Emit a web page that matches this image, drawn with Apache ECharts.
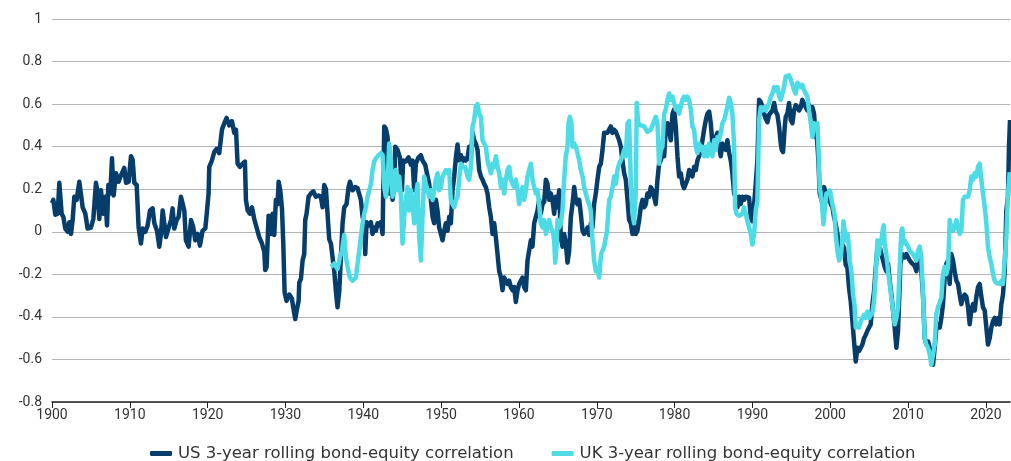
<!DOCTYPE html>
<html>
<head>
<meta charset="utf-8">
<script src="https://cdn.jsdelivr.net/npm/echarts@6/dist/echarts.min.js"></script>
<style>
html,body{margin:0;padding:0;background:#fff;}
#chart{width:1011px;height:461px;}
</style>
</head>
<body>
<div id="chart"></div>
<script>
const seriesNames = ["US 3-year rolling bond-equity correlation", "UK 3-year rolling bond-equity correlation"];
const xTickLabels = [1900,1910,1920,1930,1940,1950,1960,1970,1980,1990,2000,2010,2020];

const usYears = [
1900.0,1900.17,1900.43,1900.73,1900.94,1901.07,1901.24,1901.46,1901.71,1902.01,1902.23,1902.44,1902.65,1902.87,1903.17,1903.51,1903.73,1903.94,1904.28,1904.58,
1905.01,1905.31,1905.65,1905.87,1906.08,1906.29,1906.59,1906.85,1907.07,1907.24,1907.49,1907.71,1907.92,1908.22,1908.56,1908.86,1909.29,1909.51,1909.85,
1910.15,1910.36,1910.58,1910.88,1911.13,1911.43,1911.65,1911.99,1912.29,1912.59,1912.93,1913.15,1913.49,1913.79,1914.0,1914.22,1914.43,1914.64,1914.99,
1915.29,1915.5,1915.71,1916.01,1916.27,1916.57,1916.79,1917.0,1917.21,1917.56,1917.86,1918.16,1918.41,1918.71,1919.01,1919.35,1919.7,1919.91,
1920.12,1920.21,1920.55,1920.85,1921.15,1921.49,1921.84,1922.14,1922.44,1922.78,1923.12,1923.42,1923.64,1923.85,1924.15,1924.49,1924.79,1924.92,
1925.14,1925.43,1925.69,1925.99,1926.29,1926.63,1926.98,1927.28,1927.4,1927.58,1927.83,1928.13,1928.35,1928.56,1928.77,1928.99,1929.12,1929.33,1929.55,1929.72,1929.89,
1930.14,1930.49,1930.83,1931.0,1931.26,1931.47,1931.69,1931.77,1931.99,1932.2,1932.41,1932.54,1932.71,1932.97,1933.27,1933.57,1933.91,1934.26,1934.55,1934.77,1934.98,
1935.2,1935.41,1935.62,1935.84,1936.05,1936.27,1936.48,1936.69,1936.91,1937.12,1937.34,1937.55,1937.85,1938.11,1938.28,1938.62,1938.96,1939.26,1939.48,1939.69,1939.91,
1940.12,1940.25,1940.42,1940.76,1940.98,1941.19,1941.4,1941.62,1941.83,1942.05,1942.26,1942.48,1942.69,1942.9,1943.12,1943.33,1943.55,1943.76,1943.97,1944.1,1944.4,1944.7,1944.96,
1945.13,1945.47,1945.82,1946.12,1946.33,1946.54,1946.76,1947.1,1947.4,1947.61,1947.96,1948.26,1948.47,1948.68,1948.9,1949.11,1949.33,1949.54,1949.75,1949.97,
1950.18,1950.4,1950.61,1950.83,1951.04,1951.25,1951.47,1951.68,1951.9,1952.11,1952.32,1952.54,1952.75,1952.97,1953.18,1953.39,1953.61,1953.82,1954.04,1954.25,1954.46,1954.68,1954.89,
1955.11,1955.32,1955.53,1955.75,1955.96,1956.18,1956.39,1956.61,1956.82,1957.03,1957.25,1957.46,1957.68,1957.89,1958.1,1958.32,1958.53,1958.75,1958.96,1959.17,1959.39,1959.6,1959.82,
1960.03,1960.24,1960.46,1960.67,1960.89,1961.1,1961.31,1961.53,1961.74,1961.96,1962.17,1962.39,1962.6,1962.81,1963.03,1963.24,1963.46,1963.67,1963.88,1964.1,1964.31,1964.53,1964.74,1964.95,
1965.17,1965.38,1965.6,1965.81,1966.02,1966.24,1966.45,1966.67,1966.88,1967.1,1967.31,1967.52,1967.74,1967.95,1968.17,1968.38,1968.59,1968.81,1969.02,1969.24,1969.45,1969.66,1969.88,
1970.09,1970.31,1970.52,1970.74,1970.95,1971.16,1971.38,1971.59,1971.8,1972.02,1972.23,1972.45,1972.66,1972.88,1973.09,1973.3,1973.52,1973.73,1973.95,1974.16,1974.37,1974.59,1974.8,
1975.02,1975.23,1975.44,1975.66,1975.87,1976.09,1976.3,1976.51,1976.73,1976.94,1977.16,1977.37,1977.58,1977.8,1978.01,1978.23,1978.44,1978.66,1978.87,1979.08,1979.3,1979.51,1979.73,1979.94,
1980.15,1980.37,1980.58,1980.8,1981.01,1981.22,1981.44,1981.65,1981.87,1982.08,1982.29,1982.51,1982.72,1982.94,1983.15,1983.37,1983.58,1983.79,1984.01,1984.22,1984.44,1984.65,1984.86,
1985.08,1985.29,1985.51,1985.72,1985.93,1986.15,1986.36,1986.58,1986.79,1987.01,1987.22,1987.43,1987.65,1987.86,1988.08,1988.29,1988.5,1988.72,1988.93,1989.15,1989.36,1989.57,1989.79,
1990.0,1990.22,1990.43,1990.64,1990.86,1991.07,1991.29,1991.5,1991.72,1991.93,1992.14,1992.36,1992.57,1992.79,1993.0,1993.21,1993.43,1993.64,1993.77,1993.94,1994.16,1994.28,1994.5,1994.71,1994.93,
1995.14,1995.35,1995.57,1995.78,1996.0,1996.21,1996.42,1996.64,1996.85,1997.07,1997.28,1997.5,1997.71,1997.92,1998.14,1998.27,1998.48,1998.65,1998.91,1999.21,1999.42,1999.64,1999.85,
2000.07,2000.28,2000.49,2000.71,2000.92,2001.14,2001.35,2001.56,2001.78,2001.99,2002.21,2002.42,2002.63,2002.85,2003.06,2003.28,2003.49,2003.71,2003.92,2004.13,2004.35,2004.56,2004.77,2004.99,
2005.2,2005.42,2005.63,2005.85,2006.06,2006.36,2006.57,2006.79,2007.0,2007.21,2007.43,2007.64,2007.86,2008.07,2008.28,2008.5,2008.71,2008.93,2009.01,2009.27,2009.57,2009.78,
2010.0,2010.21,2010.43,2010.64,2010.85,2011.07,2011.28,2011.5,2011.71,2011.92,2012.14,2012.35,2012.57,2012.78,2012.99,2013.21,2013.42,2013.64,2013.85,2014.07,2014.28,2014.49,2014.71,2014.92,
2015.14,2015.35,2015.56,2015.78,2015.99,2016.21,2016.42,2016.63,2016.85,2017.06,2017.28,2017.49,2017.71,2017.92,2018.13,2018.35,2018.56,2018.78,2018.99,2019.2,2019.42,2019.63,2019.85,
2020.06,2020.27,2020.49,2020.7,2020.92,2021.13,2021.34,2021.56,2021.77,2021.99,2022.2,2022.42,2022.63,2022.84,2022.97,2023.1
];
const usValues = [
0.135,0.15,0.08,0.085,0.23,0.235,0.085,0.07,0.015,0,0.045,-0.01,0.055,0.165,0.15,0.235,0.23,0.115,0.085,0.015,
0.02,0.06,0.23,0.18,0.06,0.195,0.085,0.165,0.03,0.22,0.18,0.345,0.17,0.275,0.235,0.265,0.3,0.23,0.235,
0.355,0.34,0.23,0.22,0.02,-0.055,0.015,0,0.03,0.1,0.11,0.04,0.005,-0.07,-0.01,0.1,0.04,-0.025,0.02,
0.055,0.11,0.015,0.055,0.07,0.165,0.17,0.1,-0.04,-0.07,0.055,0.02,-0.04,-0.01,-0.065,0.005,0.015,0.095,
0.18,0.305,0.335,0.375,0.39,0.37,0.48,0.51,0.535,0.5,0.52,0.465,0.48,0.32,0.305,0.32,0.33,0.15,
0.1,0.085,0.115,0.06,0.02,-0.025,-0.055,-0.095,-0.18,-0.165,0.075,-0.01,0.085,-0.015,0.15,0.13,0.235,0.195,0.11,-0.055,-0.285,
-0.325,-0.295,-0.315,-0.355,-0.41,-0.365,-0.325,-0.24,-0.22,-0.135,-0.105,0.055,0.085,0.165,0.18,0.19,0.165,0.17,0.165,0.115,0.22,
0.2,0.195,-0.035,-0.055,-0.12,-0.185,-0.28,-0.355,-0.28,-0.12,0.04,0.115,0.13,0.21,0.235,0.195,0.21,0.205,0.21,0.15,0.07,
0.04,-0.105,0.045,0.03,0.045,-0.01,0.02,0.005,0.04,0.03,0.045,-0.01,0.495,0.485,0.445,0.18,0.26,0.15,0.22,0.4,0.385,0.35,0.195,
0.335,0.33,0.35,0.315,0.335,0.195,0.32,0.35,0.36,0.335,0.315,0.26,0.225,0.15,0.07,0.04,0.15,0.1,0.02,-0.01,
-0.04,0.005,0.04,0.005,0.07,0.04,0.195,0.26,0.35,0.41,0.335,0.36,0.33,0.345,0.335,0.345,0.4,0.335,0.465,0.43,0.415,0.385,0.29,
0.26,0.245,0.225,0.21,0.18,0.115,0.07,-0.01,0.04,-0.025,-0.105,-0.185,-0.215,-0.275,-0.215,-0.23,-0.245,-0.23,-0.26,-0.275,-0.26,-0.33,-0.275,
-0.245,-0.23,-0.215,-0.26,-0.275,-0.135,-0.135,-0.04,-0.07,0.04,0.07,0.1,0.15,0.085,0.13,0.14,0.245,0.225,0.15,0.18,0.15,0.085,0.165,0.115,
0.195,-0.025,-0.07,-0.01,-0.055,-0.145,-0.09,0.07,0.13,0.21,0.15,0.13,0.15,0.085,0.005,-0.01,0,0.02,-0.015,0.04,0.02,0.13,0.18,
0.245,0.305,0.32,0.385,0.465,0.47,0.465,0.48,0.495,0.465,0.48,0.47,0.465,0.43,0.4,0.335,0.275,0.245,0.15,0.055,0.04,-0.01,0.055,
-0.01,0.005,0.055,0.115,0.15,0.115,0.13,0.18,0.165,0.21,0.195,0.165,0.13,0.245,0.32,0.335,0.37,0.355,0.48,0.51,0.48,0.43,0.555,0.575,
0.495,0.355,0.26,0.275,0.225,0.205,0.21,0.245,0.29,0.275,0.26,0.305,0.29,0.335,0.355,0.385,0.43,0.48,0.525,0.555,0.565,0.51,0.415,
0.4,0.445,0.465,0.4,0.355,0.415,0.4,0.385,0.43,0.37,0.335,0.275,0.18,0.165,0.115,0.165,0.13,0.165,0.15,0.165,0.17,0.16,0.07,
0.05,0.13,0.225,0.335,0.62,0.61,0.585,0.555,0.53,0.515,0.55,0.555,0.57,0.605,0.565,0.55,0.495,0.415,0.385,0.375,0.495,0.54,0.555,0.605,0.525,
0.51,0.57,0.595,0.585,0.57,0.585,0.62,0.625,0.585,0.57,0.595,0.555,0.585,0.555,0.445,0.455,0.335,0.18,0.145,0.21,0.21,0.145,0.18,
0.13,0.115,0.07,0.035,-0.01,-0.075,-0.09,-0.06,-0.075,-0.155,-0.17,-0.265,-0.325,-0.42,-0.515,-0.61,-0.545,-0.56,-0.56,-0.53,-0.5,-0.485,-0.465,-0.465,
-0.435,-0.34,-0.28,-0.17,-0.075,-0.07,-0.105,-0.135,-0.165,-0.185,-0.15,-0.23,-0.295,-0.37,-0.45,-0.545,-0.465,-0.245,-0.15,-0.105,-0.12,-0.105,
-0.12,-0.135,-0.145,-0.15,-0.16,-0.185,-0.12,-0.105,-0.185,-0.295,-0.5,-0.53,-0.515,-0.545,-0.59,-0.625,-0.545,-0.45,-0.435,-0.45,-0.405,-0.34,-0.215,-0.15,
-0.135,-0.245,-0.105,-0.135,-0.185,-0.23,-0.245,-0.295,-0.34,-0.305,-0.295,-0.305,-0.355,-0.435,-0.37,-0.34,-0.37,-0.305,-0.26,-0.245,-0.305,-0.355,-0.37,
-0.45,-0.53,-0.5,-0.45,-0.42,-0.405,-0.435,-0.405,-0.435,-0.34,-0.295,-0.185,0.1,0.165,0.4,0.525
];

const ukYears = [
1935.84,1936.27,1936.69,1936.99,1937.25,1937.55,1937.77,1937.98,1938.28,1938.62,1939.05,1939.26,1939.48,1939.69,1939.91,
1940.12,1940.33,1940.55,1940.76,1940.98,1941.19,1941.4,1941.62,1941.96,1942.26,1942.48,1942.69,1942.9,1943.12,1943.33,1943.55,1943.76,1943.97,1944.18,1944.4,1944.62,1944.83,
1945.04,1945.26,1945.47,1945.69,1945.9,1946.12,1946.33,1946.54,1946.76,1946.97,1947.18,1947.4,1947.61,1947.83,1948.04,1948.26,1948.47,1948.68,1948.9,1949.11,1949.33,1949.54,1949.75,1949.97,
1950.18,1950.4,1950.61,1950.83,1951.04,1951.25,1951.47,1951.68,1951.9,1952.11,1952.32,1952.54,1952.75,1953.09,1953.39,1953.61,1953.82,1954.04,1954.25,1954.46,1954.68,1954.89,
1955.11,1955.32,1955.53,1955.75,1955.96,1956.18,1956.39,1956.61,1956.82,1957.03,1957.25,1957.46,1957.68,1957.89,1958.1,1958.32,1958.53,1958.75,1958.96,1959.17,1959.39,1959.6,1959.82,
1960.03,1960.24,1960.46,1960.67,1960.89,1961.1,1961.31,1961.53,1961.74,1961.96,1962.17,1962.39,1962.6,1962.81,1963.03,1963.24,1963.46,1963.67,1963.88,1964.1,1964.31,1964.53,1964.66,1964.83,1964.95,
1965.17,1965.38,1965.6,1965.81,1966.02,1966.24,1966.37,1966.54,1966.75,1966.88,1967.1,1967.31,1967.52,1967.74,1967.95,1968.17,1968.38,1968.59,1968.81,1969.02,1969.24,1969.45,1969.66,1969.88,
1970.09,1970.31,1970.55,1970.95,1971.3,1971.6,1971.8,1972.02,1972.23,1972.45,1972.66,1972.88,1973.09,1973.3,1973.52,1973.73,1973.95,1974.16,1974.25,1974.37,1974.59,1974.8,
1975.02,1975.14,1975.32,1975.66,1976.09,1976.51,1976.94,1977.37,1977.58,1977.8,1978.01,1978.23,1978.44,1978.66,1978.87,1979.08,1979.3,1979.51,1979.73,1979.94,
1980.15,1980.37,1980.58,1980.8,1981.01,1981.22,1981.44,1981.65,1981.87,1982.08,1982.29,1982.51,1982.72,1982.94,1983.15,1983.37,1983.58,1983.79,1984.01,1984.22,1984.44,1984.65,1984.86,
1985.08,1985.29,1985.51,1985.72,1985.93,1986.15,1986.36,1986.58,1986.79,1987.01,1987.22,1987.43,1987.65,1987.78,1987.95,1988.29,1988.72,1988.93,1989.15,1989.36,1989.57,1989.79,
1990.0,1990.22,1990.43,1990.64,1990.86,1991.07,1991.29,1991.5,1991.72,1991.93,1992.14,1992.36,1992.57,1992.79,1993.0,1993.21,1993.43,1993.64,1993.86,1994.07,1994.28,1994.5,1994.71,1994.93,
1995.14,1995.35,1995.57,1995.78,1996.0,1996.21,1996.42,1996.64,1996.85,1997.07,1997.28,1997.5,1997.71,1997.92,1998.14,1998.35,1998.48,1998.65,1998.91,1999.12,1999.34,1999.51,1999.77,1999.98,
2000.19,2000.37,2000.54,2000.71,2000.92,2001.14,2001.35,2001.56,2001.69,2001.86,2001.99,2002.21,2002.33,2002.51,2002.76,2002.93,2003.11,2003.28,2003.49,2003.71,2003.92,2004.13,2004.35,2004.56,2004.77,2004.99,
2005.2,2005.42,2005.63,2005.85,2006.06,2006.27,2006.36,2006.57,2006.79,2006.87,2007.0,2007.21,2007.43,2007.64,2007.86,2008.07,2008.28,2008.5,2008.71,2008.93,2009.14,2009.27,2009.44,2009.57,2009.78,
2010.0,2010.21,2010.43,2010.64,2010.85,2011.07,2011.28,2011.5,2011.71,2011.92,2012.14,2012.35,2012.57,2012.78,2012.99,2013.21,2013.42,2013.64,2013.85,2014.07,2014.28,2014.49,2014.71,2014.92,
2015.14,2015.35,2015.56,2015.78,2015.99,2016.21,2016.42,2016.63,2016.85,2017.06,2017.28,2017.49,2017.71,2017.92,2018.13,2018.35,2018.56,2018.78,2018.99,2019.2,2019.42,2019.63,2019.85,
2020.06,2020.27,2020.49,2020.7,2020.92,2021.13,2021.34,2021.56,2021.77,2021.99,2022.2,2022.42,2022.63,2022.84,2023.06
];
const ukValues = [
-0.165,-0.15,-0.175,-0.12,-0.09,-0.015,-0.12,-0.165,-0.215,-0.23,-0.215,-0.15,-0.09,-0.025,0.04,
0.085,0.115,0.165,0.195,0.225,0.29,0.33,0.345,0.36,0.37,0.36,0.21,0.165,0.225,0.415,0.32,0.165,0.21,0.29,0.195,0.26,0.165,
-0.055,0.07,0.15,0.21,0.1,0.195,0.13,0.04,0.165,0.225,-0.025,-0.135,0.07,0.26,0.225,0.225,0.165,0.195,0.15,0.195,0.245,0.275,0.195,0.21,
0.26,0.275,0.29,0.275,0.29,0.15,0.13,0.115,0.15,0.165,0.245,0.32,0.305,0.305,0.26,0.245,0.305,0.495,0.525,0.59,0.6,0.555,
0.54,0.43,0.415,0.4,0.335,0.305,0.275,0.32,0.305,0.355,0.305,0.275,0.21,0.245,0.18,0.245,0.29,0.305,0.245,0.225,0.21,0.245,0.195,
0.13,0.18,0.21,0.15,0.195,0.26,0.29,0.32,0.245,0.21,0.18,0.195,0.13,0.04,0.02,0.055,-0.01,0.02,0.055,0.02,0.005,-0.04,-0.145,-0.07,0.055,
0.02,0.04,0.1,0.245,0.355,0.4,0.51,0.54,0.51,0.4,0.415,0.4,0.37,0.335,0.29,0.26,0.21,0.18,0.15,0.13,0.1,-0.04,-0.135,-0.185,
-0.17,-0.215,-0.105,-0.07,0.0,0.15,0.165,0.21,0.26,0.225,0.29,0.32,0.335,0.355,0.385,0.355,0.51,0.52,0.4,0.245,0.085,0.04,
0.195,0.605,0.51,0.5,0.495,0.47,0.48,0.52,0.54,0.51,0.32,0.385,0.4,0.555,0.575,0.62,0.65,0.62,0.635,0.605,
0.575,0.59,0.555,0.59,0.62,0.635,0.62,0.635,0.62,0.575,0.495,0.48,0.4,0.37,0.415,0.385,0.4,0.355,0.4,0.355,0.415,0.385,0.355,
0.43,0.385,0.445,0.43,0.465,0.51,0.525,0.555,0.59,0.63,0.605,0.555,0.4,0.115,0.085,0.075,0.085,0.115,0.085,0.05,0.02,-0.01,
-0.06,-0.01,0.1,0.145,0.525,0.585,0.57,0.585,0.57,0.57,0.605,0.635,0.65,0.68,0.665,0.68,0.635,0.62,0.65,0.68,0.73,0.735,0.735,0.715,
0.69,0.665,0.65,0.7,0.7,0.68,0.69,0.665,0.65,0.635,0.57,0.51,0.445,0.51,0.495,0.51,0.4,0.21,0.145,0.035,0.115,0.18,0.18,0.195,
0.145,0.115,0.085,-0.01,-0.09,-0.135,-0.12,-0.04,0.05,0.005,-0.04,-0.01,-0.04,-0.135,-0.2,-0.295,-0.34,-0.45,-0.435,-0.45,-0.42,-0.405,-0.39,-0.405,-0.375,-0.405,
-0.4,-0.38,-0.325,-0.2,-0.04,-0.105,-0.07,-0.04,0.02,0.03,-0.055,-0.105,-0.185,-0.245,-0.31,-0.37,-0.435,-0.405,-0.355,-0.165,0.005,0.015,-0.055,-0.04,-0.055,
-0.07,-0.09,-0.09,-0.105,-0.12,-0.135,-0.09,-0.07,-0.12,-0.295,-0.5,-0.53,-0.545,-0.575,-0.625,-0.63,-0.53,-0.385,-0.355,-0.355,-0.31,-0.2,-0.165,-0.2,
-0.165,0.055,0.02,0.005,0.02,0.055,0.02,-0.01,0.005,0.15,0.165,0.17,0.165,0.195,0.26,0.245,0.275,0.26,0.305,0.32,0.245,0.18,0.115,
0.04,-0.07,-0.12,-0.15,-0.2,-0.23,-0.24,-0.24,-0.245,-0.23,-0.245,-0.135,-0.025,0.18,0.28
];

const usData = usYears.map((y, i) => [y, usValues[i]]);
const ukData = ukYears.map((y, i) => [y, ukValues[i]]);

const chart = echarts.init(document.getElementById('chart'), null, {renderer: 'canvas'});
const font = 'Roboto, "DejaVu Sans", sans-serif';
const legendFont = '"DejaVu Sans", Roboto, sans-serif';
chart.setOption({
  animation: false,
  backgroundColor: '#ffffff',
  grid: {left: 52, right: 1, top: 19, bottom: 59, containLabel: false},
  legend: {
    left: 150, top: 445, padding: 0,
    itemWidth: 22, itemHeight: 5, itemGap: 38,
    icon: 'roundRect',
    textStyle: {fontFamily: legendFont, fontSize: 16.5, color: '#333', padding: [0,0,0,1]},
    data: seriesNames
  },
  xAxis: {
    type: 'value', min: 1900, max: 2023.1, interval: 10,
    splitLine: {show: false},
    axisLine: {show: true, onZero: false, lineStyle: {color: '#222', width: 1.5}},
    axisTick: {show: true, length: 6, lineStyle: {color: '#222', width: 1}, customValues: xTickLabels},
    axisLabel: {fontFamily: font, fontSize: 14, color: '#333', margin: 6, customValues: xTickLabels,
      formatter: v => String(Math.round(v))}
  },
  yAxis: {
    type: 'value', min: -0.8, max: 1, interval: 0.2,
    axisLine: {show: false}, axisTick: {show: false},
    splitLine: {show: true, lineStyle: {color: '#b4b4b4', width: 1}},
    axisLabel: {fontFamily: font, fontSize: 14, color: '#333', margin: 10,
      formatter: v => { const r = Math.round(v * 10) / 10; return r === 0 ? '0' : String(r); }}
  },
  series: [
    {name: seriesNames[0], type: 'line', data: usData, showSymbol: false, symbol: 'none',
     lineStyle: {color: '#063d6a', width: 4.5, join: 'round'}, itemStyle: {color: '#063d6a'}, z: 2},
    {name: seriesNames[1], type: 'line', data: ukData, showSymbol: false, symbol: 'none',
     lineStyle: {color: '#4ddce6', width: 4.5, join: 'round'}, itemStyle: {color: '#4ddce6'}, z: 3}
  ]
});
</script>
</body>
</html>
